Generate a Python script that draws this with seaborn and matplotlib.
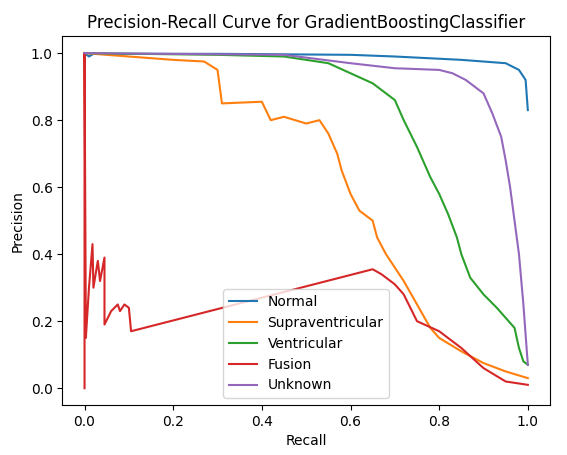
import matplotlib
matplotlib.use('Agg')
import matplotlib.pyplot as plt
import seaborn as sns
import pandas as pd

CLASSES = ['Normal', 'Supraventricular', 'Ventricular', 'Fusion', 'Unknown']

normal_recall = [0.0, 0.01, 0.02, 0.3, 0.6, 0.7, 0.85, 0.95, 0.98, 0.995, 1.0]
normal_prec = [1.0, 0.99, 0.998, 0.998, 0.995, 0.99, 0.98, 0.97, 0.95, 0.92, 0.83]

supra_recall = [0.0, 0.05, 0.2, 0.27, 0.3, 0.31, 0.4, 0.42, 0.45, 0.5, 0.53, 0.55, 0.57, 0.58,
                0.6, 0.62, 0.65, 0.66, 0.68, 0.7, 0.72, 0.75, 0.78, 0.8, 0.85, 0.9, 0.95, 1.0]
supra_prec = [1.0, 0.995, 0.98, 0.975, 0.95, 0.85, 0.855, 0.80, 0.81, 0.79, 0.80, 0.76, 0.70, 0.65,
              0.58, 0.53, 0.50, 0.45, 0.40, 0.36, 0.32, 0.25, 0.18, 0.15, 0.11, 0.075, 0.05, 0.03]

vent_recall = [0.0, 0.3, 0.45, 0.5, 0.55, 0.6, 0.65, 0.68, 0.7, 0.72, 0.75, 0.78, 0.8, 0.82,
               0.84, 0.85, 0.87, 0.9, 0.93, 0.95, 0.97, 0.98, 0.99, 1.0]
vent_prec = [1.0, 0.995, 0.99, 0.98, 0.97, 0.94, 0.91, 0.88, 0.86, 0.80, 0.72, 0.63, 0.58, 0.52,
             0.45, 0.40, 0.33, 0.28, 0.24, 0.21, 0.18, 0.12, 0.08, 0.07]

fusion_recall = [0.0, 0.0, 0.003, 0.01, 0.018, 0.02, 0.03, 0.035, 0.045, 0.045, 0.06, 0.075, 0.08,
                 0.09, 0.1, 0.105, 0.65, 0.67, 0.7, 0.72, 0.75, 0.8, 0.85, 0.9, 0.95, 1.0]
fusion_prec = [0.0, 1.0, 0.15, 0.30, 0.43, 0.30, 0.38, 0.32, 0.39, 0.19, 0.23, 0.25, 0.23,
               0.25, 0.24, 0.17, 0.355, 0.34, 0.31, 0.28, 0.20, 0.17, 0.12, 0.06, 0.02, 0.01]

unk_recall = [0.0, 0.45, 0.6, 0.7, 0.8, 0.83, 0.86, 0.9, 0.92, 0.94, 0.95, 0.96, 0.97, 0.98, 0.99, 1.0]
unk_prec = [1.0, 0.995, 0.97, 0.955, 0.95, 0.94, 0.92, 0.88, 0.82, 0.75, 0.68, 0.60, 0.50, 0.40, 0.25, 0.07]

curves = [(normal_recall, normal_prec), (supra_recall, supra_prec), (vent_recall, vent_prec),
          (fusion_recall, fusion_prec), (unk_recall, unk_prec)]

fig, ax = plt.subplots(figsize=(5.67, 4.55), dpi=100)
fig.subplots_adjust(left=0.11, right=0.97, bottom=0.11, top=0.92)
colors = sns.color_palette('tab10')
for i, (name, (r, p)) in enumerate(zip(CLASSES, curves)):
    df = pd.DataFrame({'Recall': r, 'Precision': p})
    sns.lineplot(data=df, x='Recall', y='Precision', sort=False, estimator=None,
                 color=colors[i], label=name, ax=ax)

ax.set_title('Precision-Recall Curve for GradientBoostingClassifier')
ax.set_xlabel('Recall')
ax.set_ylabel('Precision')
ax.legend(loc='lower center')
plt.savefig('out.png', dpi=100)
